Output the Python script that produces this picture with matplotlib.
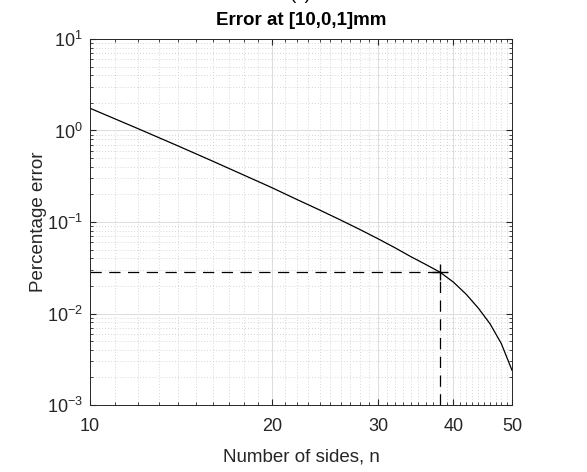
import matplotlib
matplotlib.use("Agg")
import matplotlib.pyplot as plt
from matplotlib.ticker import FixedLocator, NullFormatter, LogLocator

plt.rcParams['font.family'] = ['Liberation Sans', 'DejaVu Sans']
plt.rcParams['mathtext.fontset'] = 'custom'
plt.rcParams['mathtext.rm'] = 'Liberation Sans'
plt.rcParams['mathtext.it'] = 'Liberation Sans'
plt.rcParams['axes.unicode_minus'] = False

# curve
n_sides = [10, 12, 14, 16, 18, 20, 22, 24, 26, 28, 30, 32, 34, 36, 38,
           40, 42, 44, 46, 48, 50]
pct_err = [1.75, 1.05, 0.677, 0.4595, 0.3245, 0.2377, 0.1766, 0.1354, 0.1052,
           0.0827, 0.0656, 0.0523, 0.0418, 0.0343, 0.0283,
           0.0220, 0.0162, 0.0114, 0.0077, 0.0047, 0.0024]

# chosen point
n_sel = 38
err_sel = 0.0283

x_ticks = [10, 20, 30, 40, 50]
y_ticks = [1e-3, 1e-2, 1e-1, 1e0, 1e1]
y_labels = ['$10^{-3}$', '$10^{-2}$', '$10^{-1}$', '$10^{0}$', '$10^{1}$']

fig = plt.figure(figsize=(5.87, 4.72), dpi=100)
ax = fig.add_axes([0.1533, 0.1419, 0.7189, 0.7755])

ax.plot(n_sides, pct_err, color='black', lw=0.9)
ax.plot([10, n_sel], [err_sel, err_sel], color='black', lw=0.9, ls=(0, (9, 6)))
ax.plot([n_sel, n_sel], [1e-3, err_sel], color='black', lw=0.9, ls=(0, (9, 6)))
ax.plot([n_sel], [err_sel], marker='+', color='black', ms=11, mew=1.0)

ax.set_xscale('log')
ax.set_yscale('log')
ax.set_xlim(10, 50)
ax.set_ylim(1e-3, 1e1)

ax.xaxis.set_major_locator(FixedLocator(x_ticks))
ax.set_xticklabels([str(t) for t in x_ticks])
minor_x = [v for v in range(11, 50) if v % 10 != 0]
ax.xaxis.set_minor_locator(FixedLocator(minor_x))
ax.xaxis.set_minor_formatter(NullFormatter())
ax.yaxis.set_major_locator(FixedLocator(y_ticks))
ax.set_yticklabels(y_labels)
ax.yaxis.set_minor_locator(LogLocator(base=10, subs=range(2, 10), numticks=10))
ax.yaxis.set_minor_formatter(NullFormatter())

ax.grid(True, which='major', color='#dcdcdc', lw=0.7, ls='-')
ax.grid(True, which='minor', color='#c8c8c8', lw=0.6, ls=(0, (1, 2.5)))
ax.set_axisbelow(True)

ax.tick_params(which='both', direction='in', top=True, right=True, labelsize=13, colors='#262626')
ax.tick_params(axis='x', which='major', pad=9)
ax.tick_params(axis='y', which='major', pad=5)
ax.tick_params(which='major', length=4)
ax.tick_params(which='minor', length=2)
for s in ax.spines.values():
    s.set_color('#262626')
    s.set_linewidth(0.7)

ax.set_xlabel('Number of sides, n', fontsize=13.5, color='#262626', labelpad=10)
ax.set_ylabel('Percentage error', fontsize=13.5, color='#262626', labelpad=0)
ax.set_title('Error at [10,0,1]mm', fontsize=13.5, fontweight='bold', pad=10)
fig.text(0.512, 0.993, '(c)', fontsize=13.5, ha='center', va='bottom')

fig.savefig('out.png', dpi=100)
